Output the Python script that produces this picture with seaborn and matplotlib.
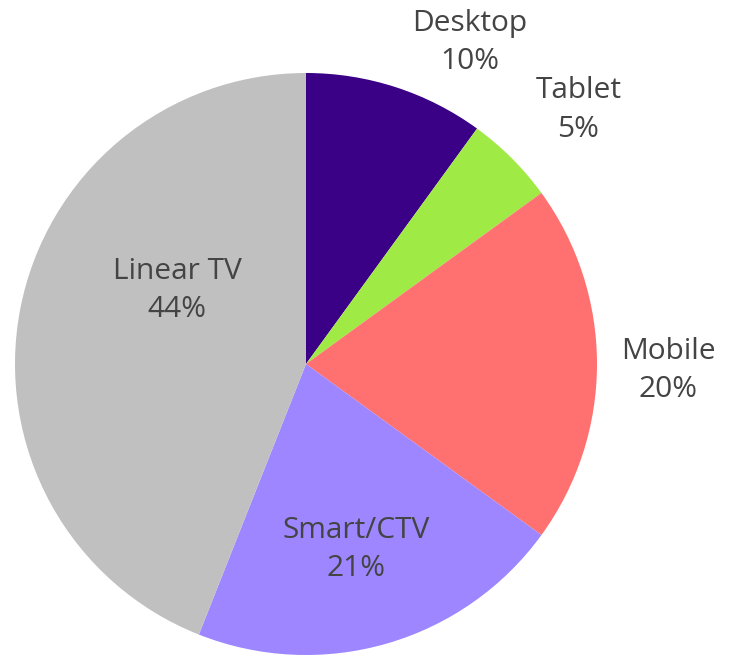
import numpy as np
import matplotlib
matplotlib.use("Agg")
import matplotlib.pyplot as plt
import seaborn as sns

# Share of viewing time by device
devices = ["Desktop", "Tablet", "Mobile", "Smart/CTV", "Linear TV"]
shares = [10, 5, 20, 21, 44]
colors = ["#3a0086", "#a0ea46", "#ff7171", "#9d86ff", "#c0c0c0"]

# Label placement: radial distance (in radii) and angular nudge (degrees)
label_radius = [1.24, 1.28, 1.245, 0.66, 0.51]
label_nudge = [-9, -2, -1, -1, -19]

sns.set_theme(style="white")
plt.rcParams["font.family"] = ["Open Sans", "DejaVu Sans"]

fig = plt.figure(figsize=(7.31, 6.56), dpi=100)
ax = fig.add_axes([15 / 731, 1 / 656, 582 / 731, 582 / 656])

wedges, _ = ax.pie(
    shares,
    colors=sns.color_palette(colors),
    startangle=90,
    counterclock=False,
    radius=1.0,
    wedgeprops=dict(linewidth=0),
)
ax.set_xlim(-1, 1)
ax.set_ylim(-1, 1)
ax.axis("off")

for w, name, val, r, d in zip(wedges, devices, shares, label_radius, label_nudge):
    ang = np.deg2rad((w.theta1 + w.theta2) / 2 + d)
    ax.text(r * np.cos(ang), r * np.sin(ang), f"{name}\n{val}%",
            ha="center", va="center", fontsize=21.5, color="#444444",
            linespacing=1.42, clip_on=False)

fig.savefig("out.png", dpi=100)
